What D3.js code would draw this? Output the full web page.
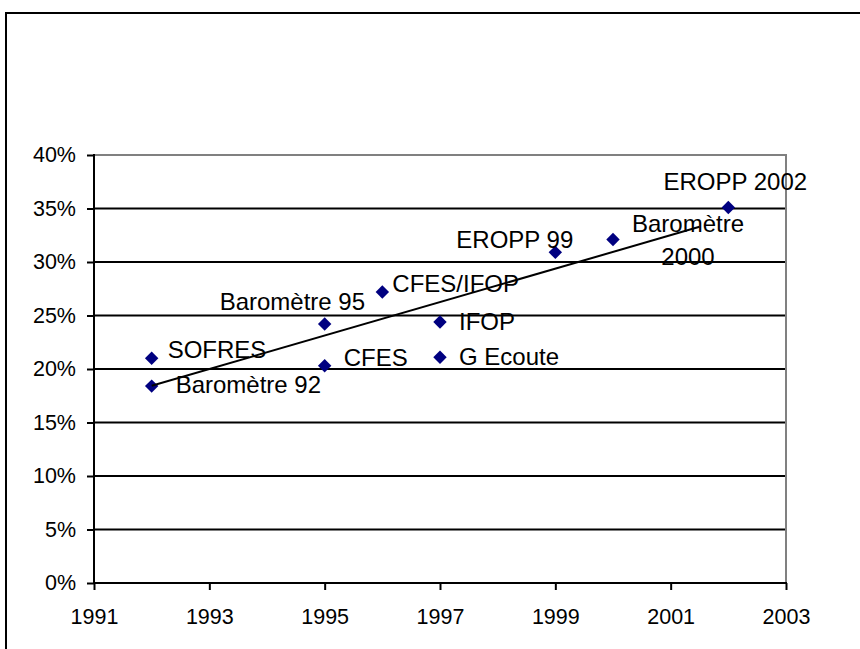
<html>
<head>
<meta charset="utf-8">
<title>Enquêtes - tendance</title>
<script src="https://d3js.org/d3.v7.min.js"></script>
<style>
  body { margin: 0; background: #fff; }
  text { font-family: "Liberation Sans", Arial, sans-serif; fill: #000; }
</style>
</head>
<body>
<div id="chart"></div>
<script>
// survey data (year, share in %)
var names  = ["Baromètre 92", "SOFRES", "Baromètre 95", "CFES", "CFES/IFOP", "IFOP", "G Ecoute", "EROPP 99", "Baromètre 2000", "EROPP 2002"];
var years  = [1992, 1992, 1995, 1995, 1996, 1997, 1997, 1999, 2000, 2002];
var values = [18.4, 21.0, 24.2, 20.3, 27.2, 24.4, 21.1, 30.9, 32.1, 35.1];

var xTicks = [1991, 1993, 1995, 1997, 1999, 2001, 2003];
var yTicks = [0, 5, 10, 15, 20, 25, 30, 35, 40];
var trendYears = [1992, 2001.5];

// label placement relative to each marker: dx, dy (baseline), anchor, line gap
var labelPos = [
  {dx: 24, dy: 7, anchor: "start"},
  {dx: 16, dy: 0, anchor: "start"},
  {dx: -105, dy: -14, anchor: "start"},
  {dx: 19, dy: 0, anchor: "start"},
  {dx: 10, dy: 0, anchor: "start"},
  {dx: 19, dy: 8, anchor: "start"},
  {dx: 19, dy: 8, anchor: "start"},
  {dx: -99, dy: -4, anchor: "start"},
  {dx: 75, dy: -8, anchor: "middle", split: true, gap: 33},
  {dx: 7, dy: -17, anchor: "middle"}
];

var W = 860, H = 649;
var margin = {top: 155, right: 74, bottom: 66, left: 94},
    width = W - margin.left - margin.right,
    height = H - margin.top - margin.bottom;

var svg = d3.select("#chart").append("svg")
    .attr("width", W)
    .attr("height", H);

svg.append("rect")
    .attr("width", W).attr("height", H)
    .attr("fill", "#fff");

// outer chart frame (runs off the picture on right and bottom)
svg.append("rect")
    .attr("x", 6).attr("y", 13)
    .attr("width", W + 20).attr("height", H + 20)
    .attr("fill", "none")
    .attr("stroke", "#000")
    .attr("stroke-width", 2);

var g = svg.append("g")
    .attr("transform", "translate(" + margin.left + "," + margin.top + ")");

var x = d3.scaleLinear().domain([1991, 2003]).range([0, width]);
var y = d3.scaleLinear().domain([0, 40]).range([height, 0]);

// gridlines
g.selectAll(".grid")
  .data(yTicks.filter(function(d) { return d > 0 && d < 40; }))
  .enter().append("line")
    .attr("x1", 0).attr("x2", width)
    .attr("y1", function(d) { return y(d); })
    .attr("y2", function(d) { return y(d); })
    .attr("stroke", "#000")
    .attr("stroke-width", 2);

// plot frame top & right in grey
g.append("path")
    .attr("d", "M0," + y(40) + "H" + x(2003) + "V" + y(0))
    .attr("fill", "none")
    .attr("stroke", "#808080")
    .attr("stroke-width", 2);

// axes
var yAxis = g.append("g")
    .call(d3.axisLeft(y).tickValues(yTicks).tickSize(7).tickPadding(11)
      .tickFormat(function(d) { return d + "%"; }));
var xAxis = g.append("g")
    .attr("transform", "translate(0," + height + ")")
    .call(d3.axisBottom(x).tickValues(xTicks).tickSize(7).tickPadding(19)
      .tickFormat(d3.format("d")));

[yAxis, xAxis].forEach(function(a) {
  a.select(".domain").remove();
  a.selectAll("line").attr("stroke", "#000").attr("stroke-width", 2);
  a.selectAll("text").attr("font-size", 21.5).attr("font-family", "Liberation Sans, Arial, sans-serif").attr("fill", "#000");
});

g.append("line")
    .attr("x1", 0).attr("x2", 0).attr("y1", y(40) - 1).attr("y2", height + 1)
    .attr("stroke", "#000").attr("stroke-width", 2);
g.append("line")
    .attr("x1", 0).attr("x2", width + 1).attr("y1", height).attr("y2", height)
    .attr("stroke", "#000").attr("stroke-width", 2);

// linear trend (least squares)
var mx = d3.mean(years), my = d3.mean(values);
var sxy = d3.sum(years, function(d, i) { return (d - mx) * (values[i] - my); });
var sxx = d3.sum(years, function(d) { return (d - mx) * (d - mx); });
var slope = sxy / sxx, icpt = my - slope * mx;

var points = names.map(function(n, i) { return {name: n, year: years[i], value: values[i], pos: labelPos[i]}; });

// markers
g.selectAll(".pt")
  .data(points)
  .enter().append("path")
    .attr("d", d3.symbol().type(d3.symbolSquare).size(90))
    .attr("transform", function(d) { return "translate(" + x(d.year) + "," + y(d.value) + ") rotate(45)"; })
    .attr("fill", "#000080");

g.append("path")
    .datum(trendYears)
    .attr("d", d3.line()
      .x(function(d) { return x(d); })
      .y(function(d) { return y(icpt + slope * d); }))
    .attr("fill", "none")
    .attr("stroke", "#000")
    .attr("stroke-width", 2);

// labels
points.forEach(function(d) {
  var lines = d.pos.split ? d.name.split(" ") : [d.name];
  var t = g.append("text")
      .attr("font-size", 24)
      .attr("text-anchor", d.pos.anchor);
  lines.forEach(function(s, k) {
    t.append("tspan")
      .attr("x", x(d.year) + d.pos.dx)
      .attr("y", y(d.value) + d.pos.dy + k * (d.pos.gap || 0))
      .text(s);
  });
});
</script>
</body>
</html>
